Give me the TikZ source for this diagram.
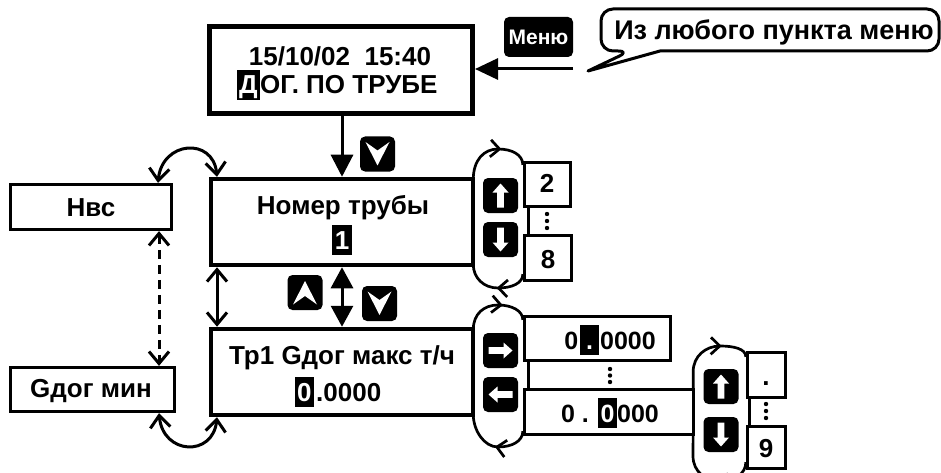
\documentclass[tikz,border=0pt]{standalone}
\usepackage{fontspec}
\setmainfont{Liberation Sans}
\usetikzlibrary{arrows.meta,decorations.markings}
\pgfdeclarelayer{bg}
\pgfsetlayers{bg,main}
\newcommand\fs[1]{\fontsize{#1}{#1}\selectfont\bfseries}
\newcommand\hlbox[1]{{\setlength\fboxsep{0pt}\colorbox{black}{\rule[-6pt]{0pt}{30pt}\hspace{2.5pt}\textcolor{white}{#1}\hspace{2.5pt}}}}
\begin{document}
\begin{tikzpicture}[x=1pt,y=-1pt,
  bigbox/.style={draw, fill=white, line width=4.5pt, minimum width=262pt, minimum height=86pt, inner sep=0pt},
  smallbox/.style={draw, fill=white, line width=3.3pt, inner sep=0pt},
  txt/.style={anchor=base, inner sep=0pt, font=\fs{26}},
  btn/.style={fill=black, rounded corners=5pt, minimum width=35pt, minimum height=35pt, inner sep=0pt},
  ftip/.style={line width=3pt, -{Triangle[length=22pt,width=22pt]}},
  dtip/.style={line width=3pt, {Triangle[length=21pt,width=22pt]}-{Triangle[length=21pt,width=22pt]}},
  vtip/.style={line width=3pt, {Straight Barb[length=12pt,width=20pt]}-{Straight Barb[length=12pt,width=20pt]}},
  loopline/.style={line width=2.7pt, postaction={decorate}, decoration={markings, mark=at position #1 with {\arrow{Straight Barb[length=9pt,width=17pt]}}}},
  loopline/.default=0.5
]
\useasboundingbox (0,0) rectangle (941,473);

% boxes
\node[bigbox, line width=5pt, minimum width=263pt, minimum height=87pt] (top) at (341,70) {};
\node[bigbox] (nom) at (342,222) {};
\node[bigbox] (tp) at (342,372) {};
\node[smallbox, minimum width=161pt, minimum height=45pt] (nvs) at (91,207) {};
\node[smallbox, minimum width=164pt, minimum height=44pt] (gmin) at (92.5,389.5) {};
\node[smallbox, minimum width=46pt, minimum height=44pt] (b2) at (547.5,184.5) {};
\node[smallbox, minimum width=47pt, minimum height=45pt] (b8) at (548,258) {};
\node[smallbox, minimum width=146pt, minimum height=44pt] (t0) at (597.5,338.5) {};
\node[smallbox, minimum width=169pt, minimum height=45pt] (bz) at (609,412) {};
\node[smallbox, minimum width=38pt, minimum height=45pt] (bd) at (766.5,375) {};
\node[smallbox, minimum width=38pt, minimum height=42pt] (b9) at (766.5,447.5) {};

% texts
\node[txt] (l1) at (340,66) {15/10/02\ \ 15:40};
\node[txt] (l2) at (337,94) {\hlbox{Д}ОГ. ПО ТРУБЕ};
\node[txt] (l3) at (343,214) {Номер трубы};
\node[txt] (l4) at (342,249) {\hlbox{1}};
\node[txt] (l5) at (342,364) {Тр1 Gдог макс т/ч};
\node[txt] (l6) at (338,401) {\hlbox{0}\kern2pt.0000};
\node[txt] (l7) at (91,216) {Нвс};
\node[txt] (l8) at (91,397) {Gдог мин};
\node[txt] (l9) at (547,193) {2};
\node[txt] (l10) at (548,268) {8};
\node[txt, font=\fs{25}] (l11) at (610,349) {0\kern2pt\hlbox{\makebox[14pt]{.}}\kern1pt0000};
\node[txt, font=\fs{25}] (l12) at (610,422) {0 . \hlbox{0}000};
\node[txt] (l13) at (766,385) {.};
\node[txt] (l14) at (766,457) {9};

% menu button and callout
\node[btn, minimum width=69pt, minimum height=40pt] (menu) at (538.5,37) {};
\node[txt, font=\fs{21}, text=white] (menut) at (538.5,44.5) {Меню};
\coordinate (mstart) at (573,69);
\coordinate (ctip) at (588,71);
\draw[line width=3pt, line join=round] (630,51) -- (ctip) -- (660,51) [rounded corners=12pt] -- (939,51) -- (939,9) -- (601,9) -- (601,51) -- cycle;
\node[txt, font=\fs{27}] (ctext) at (774,40) {Из любого пункта меню};

% buttons
\node[btn] (bt1) at (377.5,154) {};
\node[btn] (bt2) at (305,292.5) {};
\node[btn] (bt3) at (379.5,303.5) {};
\node[btn] (bt4) at (500.5,195.5) {};
\node[btn] (bt5) at (500.5,239.5) {};
\node[btn] (bt6) at (500.5,350.5) {};
\node[btn] (bt7) at (500.5,394.5) {};
\node[btn] (bt8) at (721,386.5) {};
\node[btn] (bt9) at (721,434.5) {};
% glyphs
\fill[white, shift={(bt1.center)}] (-12,-12) -- (0,-3.5) -- (12,-12) -- (0,11.5) -- cycle;
\fill[white, shift={(bt3.center)}] (-12,-12) -- (0,-3.5) -- (12,-12) -- (0,11.5) -- cycle;
\fill[white, shift={(bt2.center)}] (-12,12) -- (0,3.5) -- (12,12) -- (0,-11.5) -- cycle;
\foreach \b in {bt4,bt8}
  \fill[white, shift={(\b.center)}] (0,-12) -- (8,-3) -- (3.3,-3) -- (3.3,12) -- (-3.3,12) -- (-3.3,-3) -- (-8,-3) -- cycle;
\foreach \b in {bt5,bt9}
  \fill[white, shift={(\b.center)}] (0,12) -- (8,3) -- (3.3,3) -- (3.3,-12) -- (-3.3,-12) -- (-3.3,3) -- (-8,3) -- cycle;
\fill[white, shift={(bt6.center)}] (12,0) -- (3,-8) -- (3,-3.3) -- (-12,-3.3) -- (-12,3.3) -- (3,3.3) -- (3,8) -- cycle;
\fill[white, shift={(bt7.center)}] (-12,0) -- (-3,-8) -- (-3,-3.3) -- (12,-3.3) -- (12,3.3) -- (-3,3.3) -- (-3,8) -- cycle;

% main connectors
\draw[ftip] ([xshift=1pt]top.south) -- (nom.north);
\draw[dtip] (nom.south) -- (tp.north);
\draw[line width=3pt, -{Triangle[length=23pt,width=21pt]}] (mstart) -- (mstart -| top.east);
\draw[vtip] ([xshift=-125pt]nom.south) -- ([xshift=-125pt]tp.north);
\draw[vtip, dash pattern=on 9pt off 6pt] ([xshift=68pt]nvs.south) -- ([xshift=66.5pt]gmin.north);
\draw[vtip] ([xshift=67pt]nvs.north) .. controls +(4,-42) and +(-4,-40) .. ([xshift=-125pt]nom.north);
\draw[vtip] ([xshift=66.5pt]gmin.south) .. controls +(4,42) and +(-4,40) .. ([xshift=-125pt]tp.south);

% links between value boxes
\draw[line width=3pt] ([xshift=6pt]b2.south west) -- ([xshift=6pt]b8.north west);
\draw[line width=3pt] ([xshift=6pt]t0.south west) -- ([xshift=6pt]bz.north west);
\draw[line width=3pt] ([xshift=4pt]bd.south west) -- ([xshift=4pt]b9.north west);
\foreach \y in {214,221,228} \fill (547,\y) circle (2.2);
\foreach \y in {369,375.5,382} \fill (610,\y) circle (2.2);
\foreach \y in {404,411,418} \fill (766,\y) circle (2.2);

% loops
\begin{pgfonlayer}{bg}
\draw[loopline=0.62] ([xshift=-2pt,yshift=-3pt]nom.north east) .. controls +(0,-20) and (484,149) .. (498,149) .. controls (512,149) and +(0,-10) .. ([yshift=-4pt]b2.north west);
\draw[loopline=0.47] ([yshift=8pt]b8.south west) .. controls +(0,9) and (512,288) .. (498,288) .. controls (484,288) and +(0,14) .. ([xshift=-2pt,yshift=3pt]nom.south east);
\draw[loopline=0.62] ([xshift=-2pt,yshift=-3pt]tp.north east) .. controls +(0,-16) and (484,305) .. (498,305) .. controls (512,305) and +(0,-9) .. ([yshift=-5pt]t0.north west);
\draw[loopline=0.46] ([yshift=5pt]bz.south west) .. controls +(0,10) and (512,447) .. (498,447) .. controls (484,447) and +(0,16) .. ([xshift=-2pt,yshift=3pt]tp.south east);
\draw[loopline=0.68] ([xshift=-2pt,yshift=-2pt]bz.north east) -- ++(0,-18) .. controls +(0,-16) and (706,346) .. (720,346) .. controls (734,346) and +(0,-8) .. ([yshift=-6pt]bd.north west);
\draw[loopline=0.40] ([yshift=8pt]b9.south west) .. controls +(0,12) and (734,481) .. (720,481) .. controls (706,481) and +(0,16) .. (693,456) -- ([xshift=-2pt,yshift=2pt]bz.south east);
\end{pgfonlayer}
\end{tikzpicture}
\end{document}
